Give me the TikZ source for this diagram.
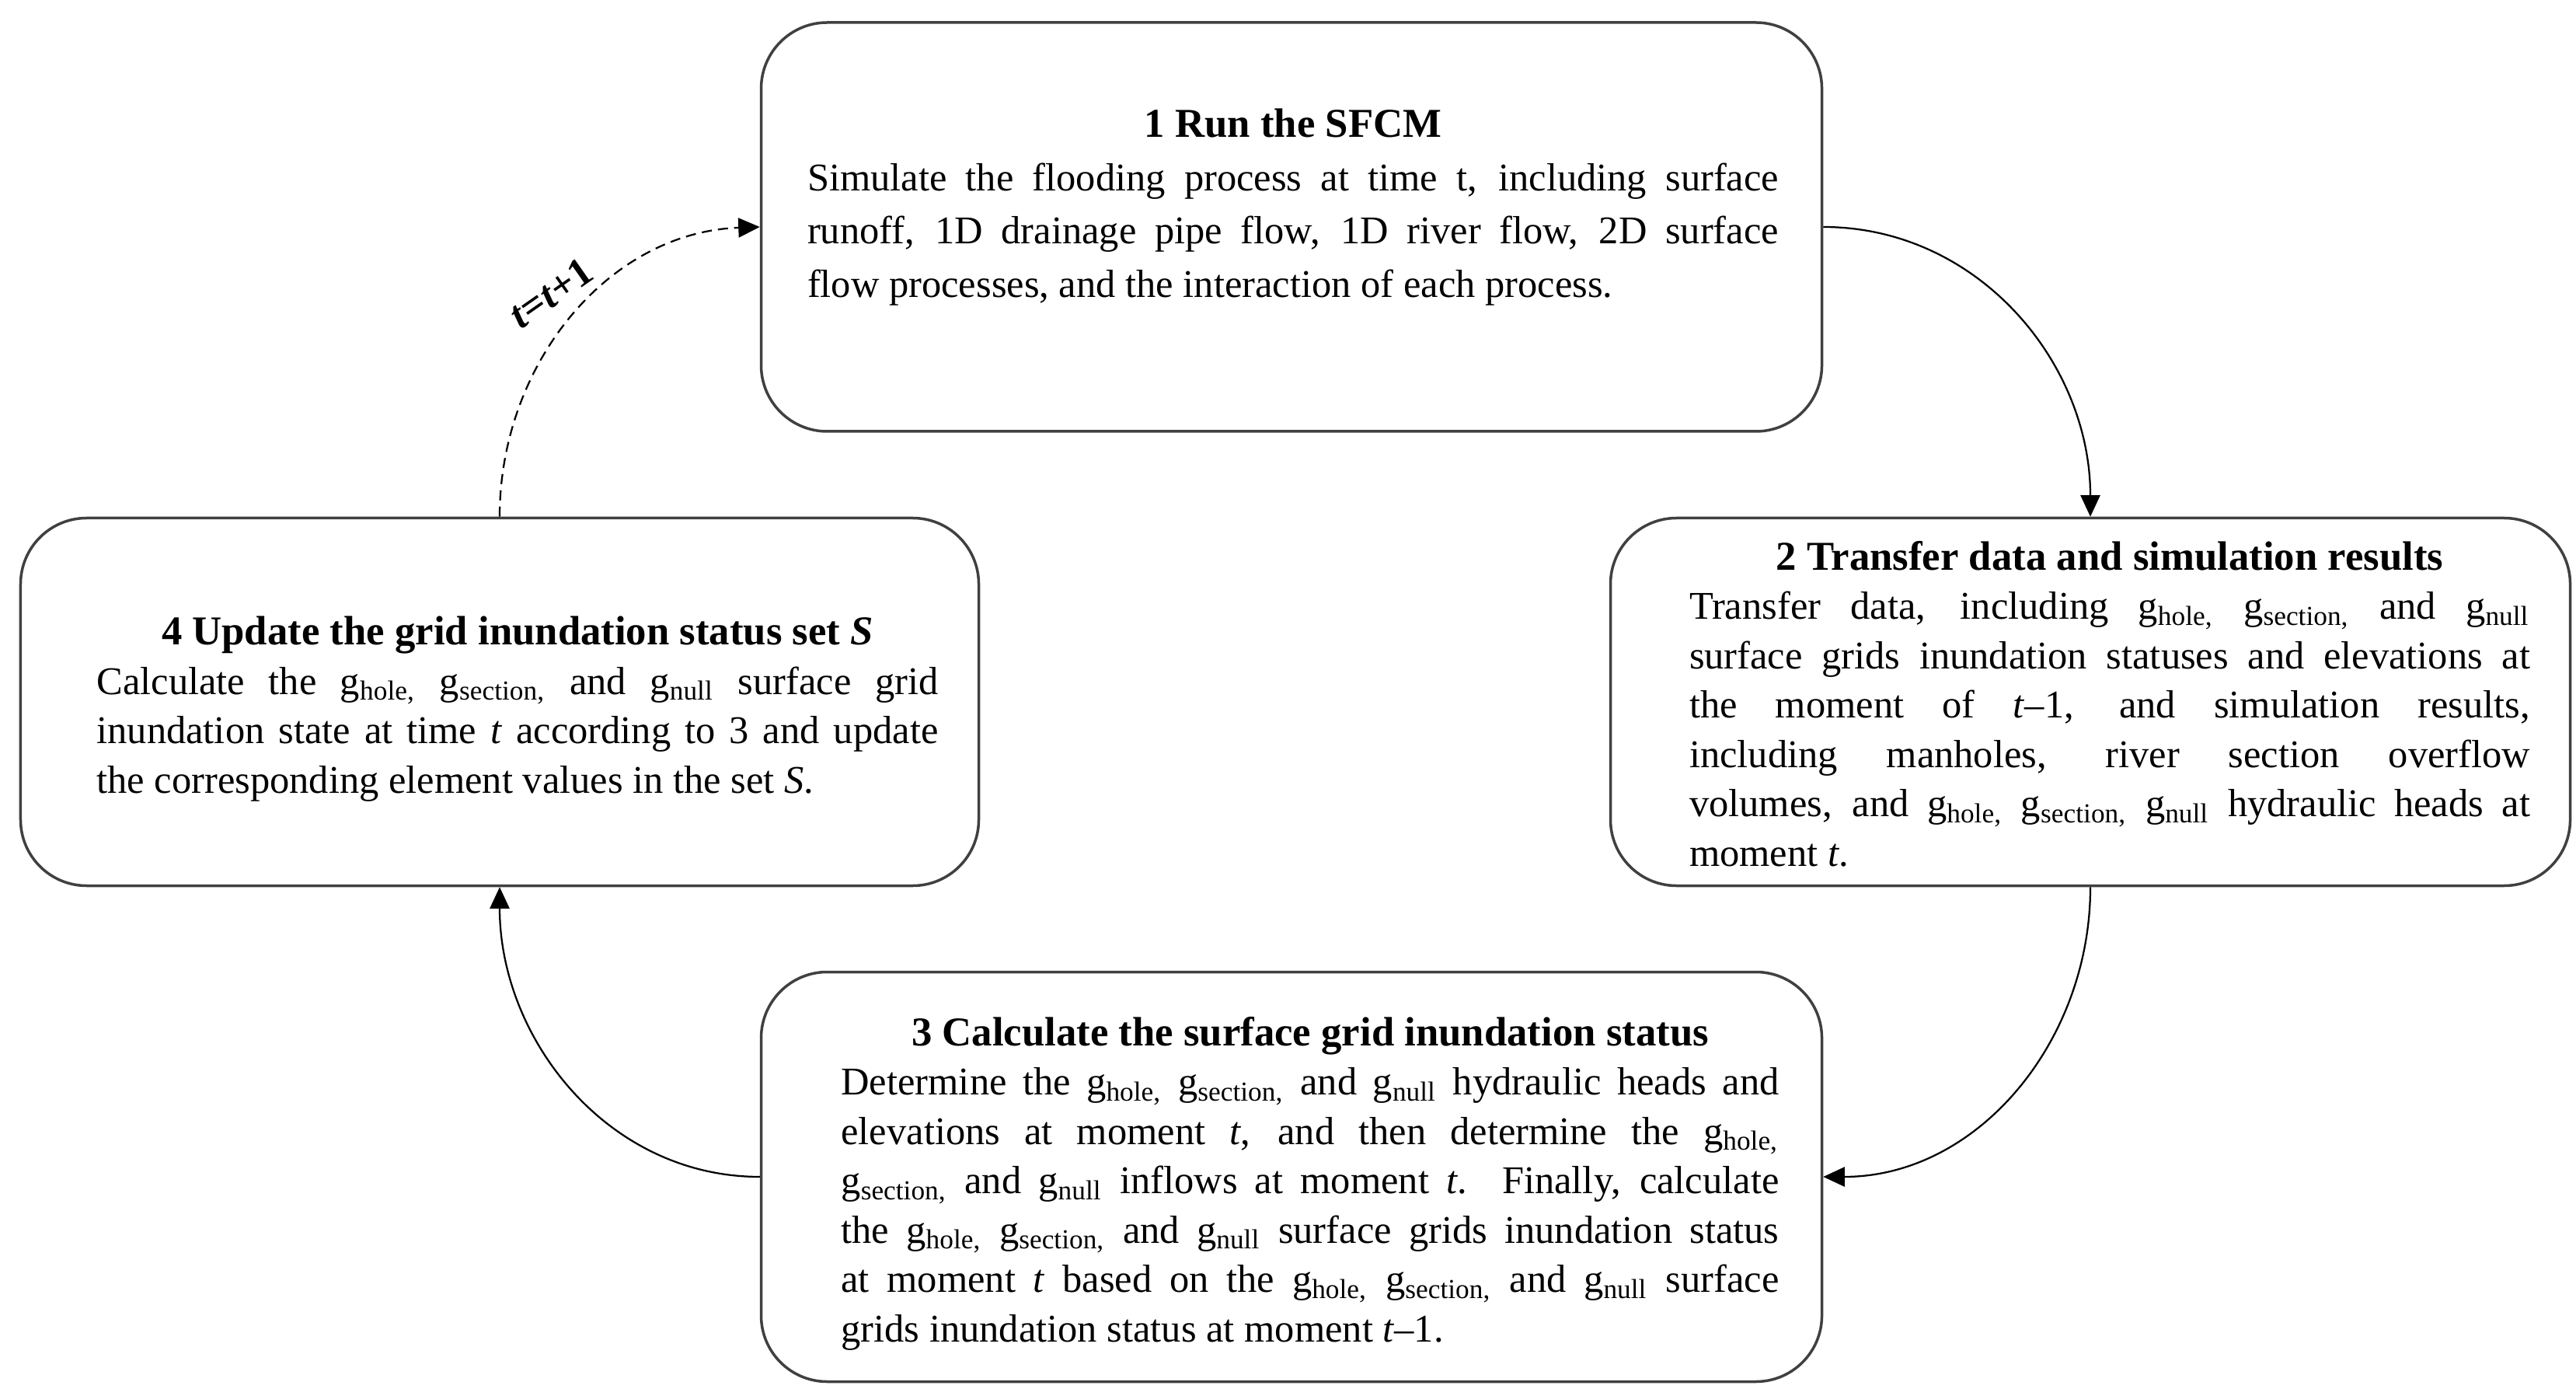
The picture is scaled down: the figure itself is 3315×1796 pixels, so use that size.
\documentclass[tikz,border=0pt]{standalone}
\usepackage{fontspec}
\setmainfont{Liberation Serif}
\usetikzlibrary{arrows.meta}
\newcommand{\gsub}[1]{g\textsubscript{#1}}
\newcommand{\boxtitle}[1]{\hspace*{\fill}{\fontsize{10.55pt}{12.7pt}\selectfont\bfseries #1}\hspace*{\fill}\par}
\newcommand{\jset}{\parindent=0pt\tolerance=9999\hbadness=10000\emergencystretch=0pt\relax}
\begin{document}
\begin{tikzpicture}[x=0.2pt,y=-0.2pt,
  box/.style={draw=black!75, line width=0.7pt, rounded corners=17pt, inner sep=0pt},
  txt/.style={anchor=north, inner sep=0pt, align=justify, font=\fontsize{10.1pt}{12.7pt}\selectfont},
  conn/.style={draw=black, line width=0.45pt, -{Triangle[length=5.5pt,width=5pt]}},
  dconn/.style={conn, dash pattern=on 2.6pt off 1.6pt}
]
\useasboundingbox (0,0) rectangle (3315,1796);
% boxes
\node[box, minimum width=273pt, minimum height=105.2pt] (b1) at (1662,292) {};
\node[box, minimum width=247pt, minimum height=94.6pt] (b2) at (2690,903) {};
\node[box, minimum width=273pt, minimum height=105.4pt] (b3) at (1662,1514) {};
\node[box, minimum width=246.6pt, minimum height=94.6pt] (b4) at (643,903) {};
% texts
\node[txt, text width=250pt, font=\fontsize{10.1pt}{13.7pt}\selectfont] (t1) at (1664,139) {\jset
\boxtitle{1 Run the SFCM}
Simulate the flooding process at time t, including surface\linebreak
runoff, 1D drainage pipe flow, 1D river flow, 2D surface\linebreak
flow processes, and the interaction of each process.};
\node[txt, text width=216.4pt] (t2) at (2715,695) {\jset
\boxtitle{2 Transfer data and simulation results}
Transfer data, including \gsub{hole,} \gsub{section,} and \gsub{null}\linebreak
surface grids inundation statuses and elevations at\linebreak
the moment of \textit{t}–1, and simulation results,\linebreak
including manholes, river section overflow\linebreak
volumes, and \gsub{hole,} \gsub{section,} \gsub{null} hydraulic heads at\linebreak
moment \textit{t}.};
\node[txt, text width=241.4pt] (t3) at (1686,1307) {\jset
\boxtitle{3 Calculate the surface grid inundation status}
Determine the \gsub{hole,} \gsub{section,} and \gsub{null} hydraulic heads and\linebreak
elevations at moment \textit{t}, and then determine the \gsub{hole,}\linebreak
\gsub{section,} and \gsub{null} inflows at moment \textit{t}. Finally, calculate\linebreak
the \gsub{hole,} \gsub{section,} and \gsub{null} surface grids inundation status\linebreak
at moment \textit{t} based on the \gsub{hole,} \gsub{section,} and \gsub{null} surface\linebreak
grids inundation status at moment \textit{t}–1.};
\node[txt, text width=216.6pt] (t4) at (666,792) {\jset
\boxtitle{4 Update the grid inundation status set \textit{S}}
Calculate the \gsub{hole,} \gsub{section,} and \gsub{null} surface grid\linebreak
inundation state at time \textit{t} according to 3 and update\linebreak
the corresponding element values in the set \textit{S}.};
% connectors
\draw[conn] (b1.east) to[out=0, in=90] (b2.north);
\draw[conn] (b2.south) to[out=-90, in=0] (b3.east);
\draw[conn] (b3.west) to[out=180, in=-90] (b4.south);
\draw[dconn] (b4.north) to[out=90, in=182] (b1.west);
\node[rotate=35, inner sep=0pt, font=\fontsize{10.5pt}{12.7pt}\selectfont] (lbl) at (709,377) {\textbf{\textit{t}=\textit{t}+1}};
\end{tikzpicture}
\end{document}
